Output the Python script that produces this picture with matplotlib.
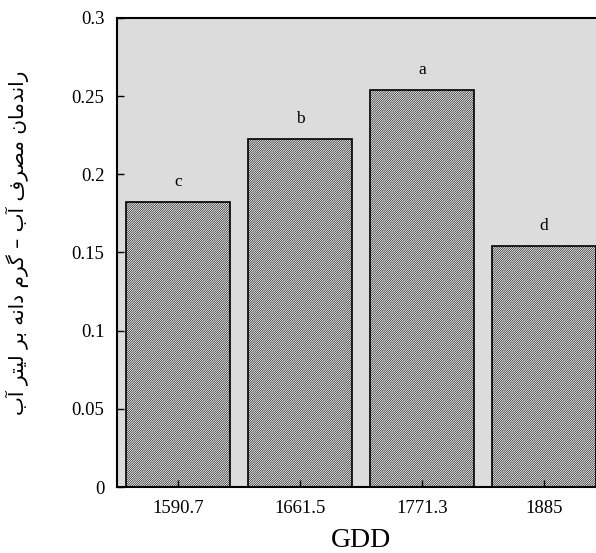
import matplotlib.pyplot as plt
import numpy as np

plt.rcParams['font.family'] = ['Liberation Serif', 'DejaVu Sans']
plt.rcParams['hatch.linewidth'] = 0.45
plt.rcParams['hatch.color'] = 'black'

gdd = ['1590.7', '1661.5', '1771.3', '1885']
wue = [0.1825, 0.2225, 0.254, 0.154]
groups = ['c', 'b', 'a', 'd']
ylabel_fa = 'راندمان مصرف آب – گرم دانه بر لیتر آب'

# isolated, final, initial, medial presentation forms
forms = {
    'ا': ('\uFE8D', '\uFE8E', None, None),
    'آ': ('\uFE81', '\uFE82', None, None),
    'د': ('\uFEA9', '\uFEAA', None, None),
    'ر': ('\uFEAD', '\uFEAE', None, None),
    'ب': ('\uFE8F', '\uFE90', '\uFE91', '\uFE92'),
    'ت': ('\uFE95', '\uFE96', '\uFE97', '\uFE98'),
    'ص': ('\uFEB9', '\uFEBA', '\uFEBB', '\uFEBC'),
    'ف': ('\uFED1', '\uFED2', '\uFED3', '\uFED4'),
    'م': ('\uFEE1', '\uFEE2', '\uFEE3', '\uFEE4'),
    'ن': ('\uFEE5', '\uFEE6', '\uFEE7', '\uFEE8'),
    'ه': ('\uFEE9', '\uFEEA', '\uFEEB', '\uFEEC'),
    'ل': ('\uFEDD', '\uFEDE', '\uFEDF', '\uFEE0'),
    'ی': ('\uFBFC', '\uFBFD', '\uFBFE', '\uFBFF'),
    'گ': ('\uFB92', '\uFB93', '\uFB94', '\uFB95'),
}


def shape(text):
    out = []
    for i, ch in enumerate(text):
        if ch not in forms:
            out.append(ch)
            continue
        prev = text[i - 1] if i > 0 else ''
        nxt = text[i + 1] if i + 1 < len(text) else ''
        joins_prev = prev in forms and forms[prev][2] is not None
        joins_next = nxt in forms and forms[ch][2] is not None
        if joins_prev and joins_next:
            out.append(forms[ch][3])
        elif joins_prev:
            out.append(forms[ch][1])
        elif joins_next:
            out.append(forms[ch][2])
        else:
            out.append(forms[ch][0])
    return ''.join(out)[::-1]


fig = plt.figure(figsize=(5.96, 5.53), dpi=100)
ax = fig.add_axes([0.1963, 0.1193, 0.8188, 0.8482])
ax.set_facecolor('#dcdcdc')

x = np.arange(len(gdd))
ax.bar(x, wue, width=0.85, color='white', edgecolor='black', linewidth=1.2, hatch='/' * 15)
for xi, v, g in zip(x, wue, groups):
    ax.text(xi, v + 0.0103, g, ha='center', va='baseline', fontsize=12.5)

ax.set_xlim(-0.5, 3.5)
ax.set_ylim(0, 0.3)
ax.set_xticks(x)
ax.set_xticklabels(gdd)
ax.set_yticks([0, 0.05, 0.1, 0.15, 0.2, 0.25, 0.3])
ax.set_yticklabels(['0', '0.05', '0.1', '0.15', '0.2', '0.25', '0.3'])
ax.tick_params(direction='in', length=5, width=1, labelsize=13.5, pad=9)
for s in ax.spines.values():
    s.set_linewidth(1.5)

ax.set_xlabel('GDD', fontsize=20, labelpad=8)
ax.set_ylabel(shape(ylabel_fa), fontsize=14.5, family=['DejaVu Sans'])
ax.yaxis.set_label_coords(-0.18, 0.52)

fig.savefig('out.png', dpi=100)
